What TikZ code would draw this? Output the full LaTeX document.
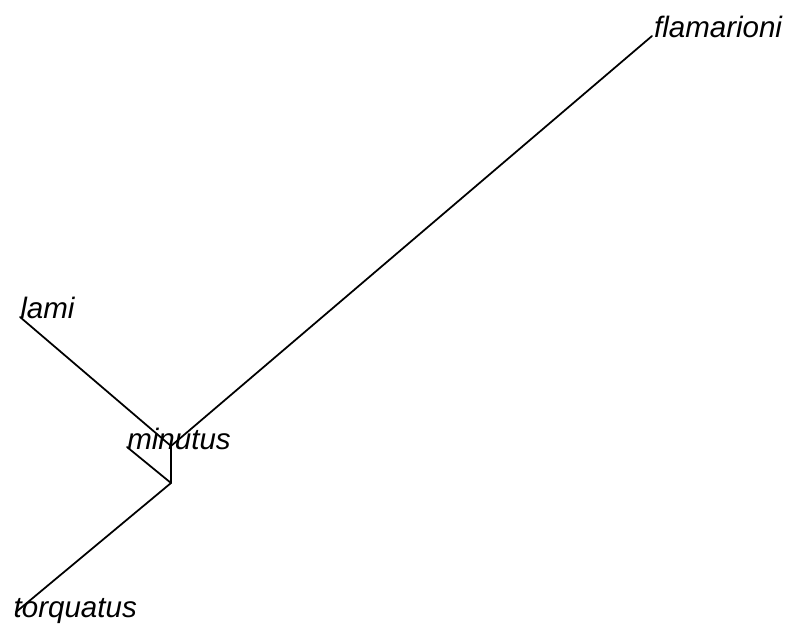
\documentclass[tikz,border=0pt]{standalone}
\usepackage{fontspec}
\setmainfont{Liberation Sans}
\tikzset{
    branch/.style={line width=1pt, draw=black, line cap=round},
    taxon/.style={anchor=base west, inner sep=0pt, font=\fontsize{16.8}{20}\selectfont\itshape}
}

\begin{document}
\begin{tikzpicture}[x=0.02cm, y=-0.02cm]
%% canvas in pixels of the reference (791 x 626)
\useasboundingbox (0,0) rectangle (791,626);

%% internal nodes
\coordinate (root)  at (171, 483);
\coordinate (inner) at (171, 446);

%% tips
\coordinate (tflam) at (652,  36);
\coordinate (tlami) at ( 20, 317);
\coordinate (tminu) at (127, 447);
\coordinate (ttorq) at ( 16, 612);

%% labels
\node[taxon] (flam) at ([xshift=1pt, yshift=-1pt]tflam) {flamarioni};
\node[taxon] (lami) at ([yshift=-1pt]tlami) {lami};
\node[taxon] (minu) at ([yshift=-1.5pt]tminu) {minutus};
\node[taxon] (torq) at ([xshift=-1.5pt, yshift=-3pt]ttorq) {torquatus};

%% branches
\draw[branch] (root) -- (inner);
\draw[branch] (inner) -- (tflam);
\draw[branch] (inner) -- (tlami);
\draw[branch] (root) -- (tminu);
\draw[branch] (root) -- (ttorq);

\end{tikzpicture}
\end{document}
